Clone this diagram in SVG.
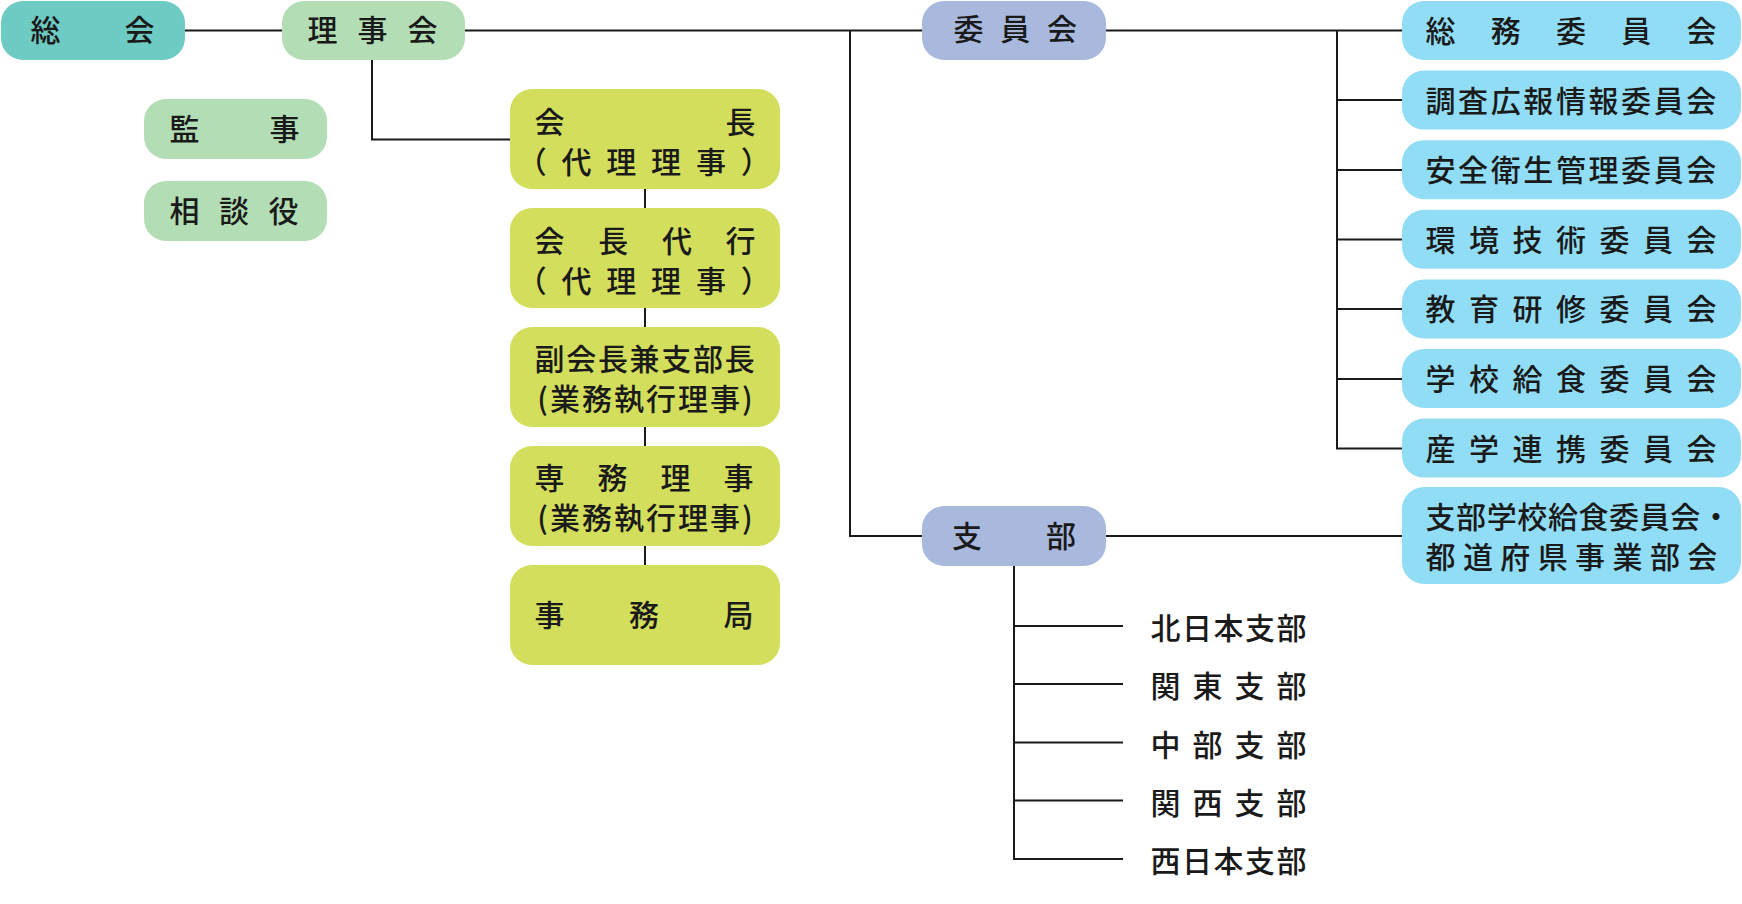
<svg xmlns="http://www.w3.org/2000/svg" width="1742" height="904" viewBox="0 0 1742 904">
<style>
text{font-family:"Noto Sans CJK JP","Noto Sans CJK SC",sans-serif;font-size:30px;font-weight:500;fill:#1a1a1a}
.teal{fill:#6ECBC3}
.green{fill:#B3DDB4}
.lime{fill:#D3DE5D}
.lav{fill:#A9B9DE}
.blue{fill:#91DDF5}
.c{stroke:#1a1a1a;stroke-width:2;fill:none}
</style>
<rect width="1742" height="904" fill="#ffffff"/>
<g id="connectors">
<path class="c" d="M185 30.5H282M465 30.5H922M1106 30.5H1402"/>
<path class="c" d="M372 60V139.5H510"/>
<path class="c" d="M645 189V565"/>
<path class="c" d="M850 30.5V536H922M1106 536H1402"/>
<path class="c" d="M1337 30.5V448.5H1402M1337 100H1402M1337 170H1402M1337 239.5H1402M1337 309H1402M1337 379H1402"/>
<path class="c" d="M1014 566V859H1123M1014 626H1123M1014 684H1123M1014 742.5H1123M1014 800.5H1123"/>
</g>
<g id="soukai"><rect class="teal" x="1" y="1" width="184" height="59" rx="22"/><text x="30.5 124.5" y="41">総会</text></g>
<g id="rijikai"><rect class="green" x="282" y="1" width="183" height="59" rx="22"/><text x="307.5 357.5 407.5" y="41">理事会</text></g>
<g id="kanji"><rect class="green" x="144" y="99" width="183" height="60" rx="22"/><text x="169.5 269.5" y="140">監事</text></g>
<g id="soudanyaku"><rect class="green" x="144" y="181" width="183" height="60" rx="22"/><text x="169.5 219 268.5" y="222">相談役</text></g>
<g id="kaichou"><rect class="lime" x="510" y="89" width="270" height="100" rx="22"/><text x="534.5 725.5" y="133">会長</text><text x="516.7 561.5 606.3 651.1 695.9 740.7" y="173">（代理理事）</text></g>
<g id="kaichoudaikou"><rect class="lime" x="510" y="208" width="270" height="100" rx="22"/><text x="534.5 598.2 661.9 725.6" y="252">会長代行</text><text x="516.7 561.5 606.3 651.1 695.9 740.7" y="292">（代理理事）</text></g>
<g id="fukukaichou"><rect class="lime" x="510" y="327" width="270" height="100" rx="22"/><text x="534.5" y="370" letter-spacing="1.7">副会長兼支部長</text><text x="646" y="410" text-anchor="middle" letter-spacing="2">(業務執行理事)</text></g>
<g id="senmuriji"><rect class="lime" x="510" y="446" width="270" height="100" rx="22"/><text x="534.5 597.5 660.5 723.5" y="489">専務理事</text><text x="646" y="529" text-anchor="middle" letter-spacing="2">(業務執行理事)</text></g>
<g id="jimukyoku"><rect class="lime" x="510" y="565" width="270" height="100" rx="22"/><text x="534.5 629 723.5" y="626">事務局</text></g>
<g id="iinkai"><rect class="lav" x="922" y="1" width="184" height="59" rx="22"/><text x="953.5 1000.2 1046.9" y="40">委員会</text></g>
<g id="shibu"><rect class="lav" x="922" y="506" width="184" height="60" rx="22"/><text x="952 1046" y="547">支部</text></g>
<g id="soumu"><rect class="blue" x="1402" y="1" width="339" height="59" rx="22"/><text x="1425.5 1490.75 1556 1621.25 1686.5" y="42">総務委員会</text></g>
<g id="chousa"><rect class="blue" x="1402" y="70.6" width="339" height="59" rx="22"/><text x="1425.5" y="111.6" letter-spacing="2.6">調査広報情報委員会</text></g>
<g id="anzen"><rect class="blue" x="1402" y="140.2" width="339" height="59" rx="22"/><text x="1425.5" y="181.2" letter-spacing="2.6">安全衛生管理委員会</text></g>
<g id="kankyou"><rect class="blue" x="1402" y="209.8" width="339" height="59" rx="22"/><text x="1425.5 1469 1512.5 1556 1599.5 1643 1686.5" y="250.8">環境技術委員会</text></g>
<g id="kyouiku"><rect class="blue" x="1402" y="279.4" width="339" height="59" rx="22"/><text x="1425.5 1469 1512.5 1556 1599.5 1643 1686.5" y="320.4">教育研修委員会</text></g>
<g id="gakkou"><rect class="blue" x="1402" y="349" width="339" height="59" rx="22"/><text x="1425.5 1469 1512.5 1556 1599.5 1643 1686.5" y="390">学校給食委員会</text></g>
<g id="sangaku"><rect class="blue" x="1402" y="418.6" width="339" height="59" rx="22"/><text x="1425.5 1469 1512.5 1556 1599.5 1643 1686.5" y="459.6">産学連携委員会</text></g>
<g id="shibugakkou"><rect class="blue" x="1402" y="487" width="339" height="97" rx="22"/><text x="1425.5" y="528" letter-spacing="0.6">支部学校給食委員会・</text><text x="1425.5" y="568" letter-spacing="7.4">都道府県事業部会</text></g>
<g id="kitanihon"><text x="1150.5" y="639" letter-spacing="1.5">北日本支部</text></g>
<g id="kantou"><text x="1150.5" y="697" letter-spacing="12">関東支部</text></g>
<g id="chuubu"><text x="1150.5" y="755.5" letter-spacing="12">中部支部</text></g>
<g id="kansai"><text x="1150.5" y="813.5" letter-spacing="12">関西支部</text></g>
<g id="nishinihon"><text x="1150.5" y="872" letter-spacing="1.5">西日本支部</text></g>
</svg>
